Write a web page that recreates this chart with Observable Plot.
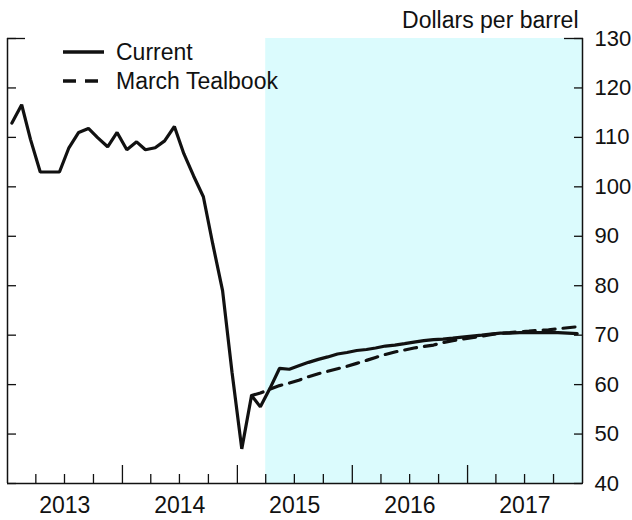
<!DOCTYPE html>
<html><head><meta charset="utf-8">
<script src="https://cdn.jsdelivr.net/npm/d3@7"></script>
<script src="https://cdn.jsdelivr.net/npm/@observablehq/plot@0.6"></script>
<style>
body{margin:0;background:#fff;}
#chart{position:relative;width:632px;height:520px;overflow:hidden;}
</style>
</head><body><div id="chart"></div>
<script>
// Brent crude oil, dollars per barrel, monthly
const currentStart = [2013, 0]; // Jan 2013
const currentValues = [
  112.9, 116.6, 109.6, 103.0, 103.0, 103.0, 107.9, 111.0, 111.8, 109.9, 108.1, 111.0,
  107.5, 109.1, 107.5, 107.9, 109.3, 112.2, 106.7, 102.2, 98.0, 88.4, 79.0, 62.5,
  47.0, 57.8, 55.5, 59.3, 63.3, 63.1, 63.8, 64.5, 65.1, 65.6, 66.2, 66.5,
  66.9, 67.1, 67.4, 67.8, 68.0, 68.3, 68.6, 68.9, 69.1, 69.2, 69.4, 69.6,
  69.8, 70.0, 70.2, 70.4, 70.4, 70.5, 70.5, 70.5, 70.5, 70.5, 70.4, 70.3
];
const tealbookStart = [2015, 1]; // Feb 2015
const tealbookValues = [
  57.8, 58.3, 59.1, 59.8, 60.3, 60.9, 61.6, 62.2, 62.7, 63.2, 63.7,
  64.3, 64.9, 65.5, 66.1, 66.6, 67.0, 67.4, 67.7, 68.0, 68.5, 68.9, 69.2,
  69.5, 69.8, 70.1, 70.4, 70.5, 70.7, 70.8, 71.0, 71.1, 71.3, 71.5, 71.7
];
const seriesNames = ["Current", "March Tealbook"];
const yearLabels = [2013, 2014, 2015, 2016, 2017];
const yTicks = [40, 50, 60, 70, 80, 90, 100, 110, 120, 130];
const yDomain = [40, 130];
const xDomain = [new Date(Date.UTC(2013, 0, 1)), new Date(Date.UTC(2018, 0, 1))];
const forecastStart = new Date(Date.UTC(2015, 3, 1));
const unitLabel = "Dollars per barrel";

const toSeries = ([y0, m0], vals, name) => vals.map((v, i) => ({date: new Date(Date.UTC(y0, m0 + i, 15)), value: v, series: name}));
const current = toSeries(currentStart, currentValues, seriesNames[0]);
const tealbook = toSeries(tealbookStart, tealbookValues, seriesNames[1]);

const quarterTicks = d3.utcMonth.every(3).range(xDomain[0], xDomain[1]).filter(d => d.getUTCMonth() !== 0);
const yearTicks = yearLabels.slice(1).map(y => new Date(Date.UTC(y, 0, 1)));
const labelTicks = yearLabels.map(y => new Date(Date.UTC(y, 6, 2)));

const ink = "#111";
const font = "'Liberation Sans', Arial, sans-serif";

const chart = Plot.plot({
  width: 632, height: 520,
  marginLeft: 7, marginRight: 50, marginTop: 38, marginBottom: 37,
  style: {fontFamily: font, fontSize: "23px", color: ink, background: "white"},
  x: {type: "utc", domain: xDomain},
  y: {domain: yDomain},
  marks: [
    Plot.rect([{x1: forecastStart, x2: xDomain[1]}], {x1: "x1", x2: "x2", fill: "#dbfbfd"}),
    Plot.axisX({ticks: quarterTicks, tickSize: -9, tickFormat: () => "", label: null, strokeWidth: 1.3}),
    Plot.axisX({ticks: yearTicks, tickSize: -18, tickFormat: () => "", label: null, strokeWidth: 1.3}),
    Plot.axisX({ticks: labelTicks, tickSize: 0, tickPadding: 13, tickFormat: d3.utcFormat("%Y"), label: null, fontSize: 23}),
    Plot.axisY({anchor: "right", ticks: yTicks, tickSize: -9, tickFormat: () => "", label: null, strokeWidth: 1.3}),
    Plot.axisY({anchor: "left", ticks: yTicks, tickSize: -9, tickFormat: () => "", label: null, strokeWidth: 1.3}),
    Plot.axisY({anchor: "right", ticks: [yDomain[1]], tickSize: -19, tickFormat: () => "", label: null, strokeWidth: 1.3}),
    Plot.axisY({anchor: "left", ticks: [yDomain[1]], tickSize: -18, tickFormat: () => "", label: null, strokeWidth: 1.3}),
    Plot.axisY({anchor: "right", ticks: yTicks, tickSize: 0, tickPadding: 12, label: null, fontSize: 22}),
    Plot.ruleX(xDomain, {stroke: ink, strokeWidth: 1.5}),
    Plot.ruleY([yDomain[0]], {stroke: ink, strokeWidth: 1.5}),
    Plot.line(tealbook, {x: "date", y: "value", stroke: ink, strokeWidth: 3.2, strokeDasharray: "12,8"}),
    Plot.line(current, {x: "date", y: "value", stroke: ink, strokeWidth: 3.2, strokeLinejoin: "miter"}),
    Plot.text([unitLabel], {frameAnchor: "top-right", dx: -4, dy: -11, lineAnchor: "bottom", textAnchor: "end", fontSize: 23, fill: ink})
  ]
});
document.getElementById("chart").appendChild(chart);

// Legend
const svg = d3.select(chart);
const lg = svg.append("g").attr("font-family", font).attr("font-size", 23).attr("fill", ink).attr("text-anchor", "start");
const legendItems = [{name: seriesNames[0], dash: null, y: 52}, {name: seriesNames[1], dash: "13,9", y: 81}];
legendItems.forEach(it => {
  lg.append("line").attr("x1", 63).attr("x2", 104).attr("y1", it.y).attr("y2", it.y)
    .attr("stroke", ink).attr("stroke-width", 3.5).attr("stroke-dasharray", it.dash);
  lg.append("text").attr("x", 116).attr("y", it.y).attr("dy", "0.36em").attr("text-anchor", "start").text(it.name);
});
</script>
</body></html>
